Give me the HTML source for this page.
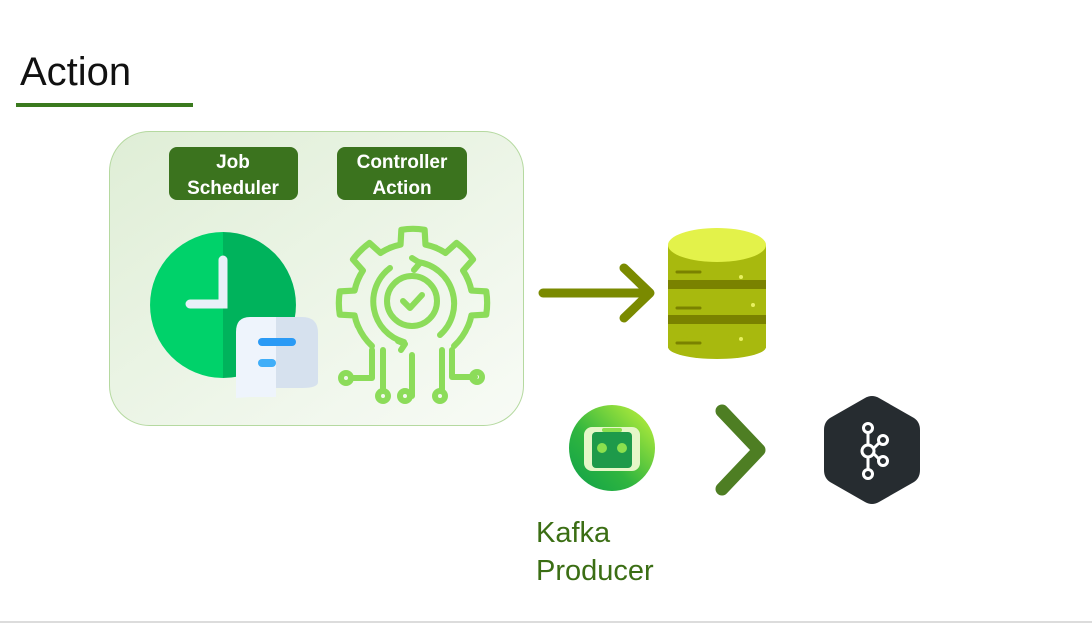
<!DOCTYPE html>
<html><head><meta charset="utf-8"><style>
body{margin:0;background:#fff;width:1092px;height:625px;overflow:hidden;font-family:"Liberation Sans",sans-serif}
</style></head><body>
<svg width="1092" height="625" viewBox="0 0 1092 625" xmlns="http://www.w3.org/2000/svg">
<defs>
<linearGradient id="bg" x1="0" y1="0" x2="1" y2="1"><stop offset="0" stop-color="#dfeed6"/><stop offset="1" stop-color="#f8fbf6"/></linearGradient>
<linearGradient id="rb" x1="1" y1="0" x2="0" y2="1"><stop offset="0" stop-color="#c8f53a"/><stop offset="0.6" stop-color="#2fb53f"/><stop offset="1" stop-color="#0ea04a"/></linearGradient>
<path id="tooth" d="M-22.2 -53.6 A58 58 0 0 1 -12.1 -56.7 L-11.3 -71.1 A72 72 0 0 1 11.3 -71.1 L12.1 -56.7 A58 58 0 0 1 22.2 -53.6"/>
</defs>
<text x="20" y="85" font-size="40" fill="#111">Action</text>
<rect x="16" y="103" width="177" height="4" fill="#3a7a1e"/>
<rect x="0" y="621" width="1092" height="2" fill="#dcdcdc"/>
<rect x="109.5" y="131.5" width="414" height="294" rx="40" fill="url(#bg)" stroke="#b5d9a0"/>
<rect x="169" y="147" width="129" height="53" rx="8" fill="#3b731e"/>
<rect x="337" y="147" width="130" height="53" rx="8" fill="#3b731e"/>
<g fill="#fff" font-size="19" text-anchor="middle" font-weight="bold">
<text x="233" y="168">Job</text><text x="233" y="194">Scheduler</text>
<text x="402" y="168">Controller</text><text x="402" y="194">Action</text></g>
<!-- clock -->
<path d="M223 232 A73 73 0 0 0 223 378 Z" fill="#00d26a"/>
<path d="M223 232 A73 73 0 0 1 223 378 Z" fill="#00b35c"/>
<path d="M223 260 V304 H190" stroke="#e8f0f8" stroke-width="9" fill="none" stroke-linecap="round"/>
<path d="M250 317 H276 V397 H250 L236 398 V332 Q236 317 250 317Z" fill="#eef4fc"/>
<path d="M276 317 H302 Q318 317 318 333 V382 Q318 388 302 388 H276Z" fill="#d6e1ee"/>
<path d="M262 342 H292" stroke="#2a9af5" stroke-width="8" stroke-linecap="round"/>
<path d="M262 363 H272" stroke="#40aef8" stroke-width="8" stroke-linecap="round"/>
<!-- gear -->
<g stroke="#8cdc5a" stroke-width="6" fill="none" stroke-linecap="round" stroke-linejoin="round">
<g transform="translate(413,303) scale(1.03)">
<use href="#tooth" transform="rotate(-90)"/><use href="#tooth" transform="rotate(-45)"/><use href="#tooth"/>
<use href="#tooth" transform="rotate(45)"/><use href="#tooth" transform="rotate(90)"/>
</g>
<path d="M358 326 A58 58 0 0 0 372 346 M468 326 A58 58 0 0 1 454 346"/>
<path d="M418 262 A42 42 0 0 1 440 335 M404 342 A42 42 0 0 1 390 268"/>
<path d="M412 258 L420 263 L414 270 M398 341 L405 344 L401 350"/>
<circle cx="412" cy="301" r="25"/>
<path d="M403 301 L410 308 L422 295"/>
<path d="M352 378 H372 V350 M383 390 V350 M412 396 V355 M442 390 V350 M475 377 H452 V350"/>
<circle cx="346" cy="378" r="5"/><circle cx="383" cy="396" r="5"/><circle cx="405" cy="396" r="5"/><circle cx="440" cy="396" r="5"/><circle cx="477" cy="377" r="5"/>
</g>
<!-- arrow -->
<g stroke="#7a8a00" stroke-width="9" fill="none" stroke-linecap="round" stroke-linejoin="round">
<path d="M543 293 H648 M624 268 L650 293 L624 318"/></g>
<!-- db -->
<rect x="668" y="245" width="98" height="103" fill="#a8b90e"/>
<ellipse cx="717" cy="347" rx="49" ry="12" fill="#a8b90e"/>
<rect x="668" y="280" width="98" height="9" fill="#7a8200"/>
<rect x="668" y="315" width="98" height="9" fill="#7a8200"/>
<ellipse cx="717" cy="245" rx="49" ry="17" fill="#e3f24a"/>
<g stroke="#7a8200" stroke-width="3" stroke-linecap="round"><path d="M677 272 H700 M677 308 H700 M677 343 H700"/></g>
<g fill="#e8f060"><circle cx="741" cy="277" r="2"/><circle cx="753" cy="305" r="2"/><circle cx="741" cy="339" r="2"/></g>
<!-- robot -->
<circle cx="612" cy="448" r="43" fill="url(#rb)"/>
<rect x="584" y="427" width="56" height="44" rx="8" fill="#e6f7c8"/>
<rect x="592" y="432" width="40" height="36" rx="4" fill="#1e9a4a"/>
<circle cx="602" cy="448" r="5" fill="#8be04e"/><circle cx="622" cy="448" r="5" fill="#8be04e"/>
<rect x="602" y="428" width="20" height="4" rx="2" fill="#8be04e"/>
<!-- chevron -->
<path d="M722 411 L759 450 L722 489" stroke="#4e7e23" stroke-width="13" fill="none" stroke-linecap="round" stroke-linejoin="round"/>
<!-- hexagon -->
<path d="M865 398 Q872 394 879 398 L914 418 Q920 422 920 430 V470 Q920 478 914 482 L879 502 Q872 506 865 502 L830 482 Q824 478 824 470 V430 Q824 422 830 418 Z" fill="#262c30"/>
<g stroke="#fff" stroke-width="3" fill="none">
<circle cx="868" cy="428" r="4.5"/><circle cx="868" cy="451" r="6"/><circle cx="868" cy="474" r="4.5"/>
<circle cx="883" cy="440" r="4.5"/><circle cx="883" cy="461" r="4.5"/>
<path d="M868 433 V445 M868 457 V469 M873 449 L879 443 M873 453 L879 459"/></g>
<g fill="#3b6e14" font-size="29"><text x="536" y="542">Kafka</text><text x="536" y="580">Producer</text></g>
</svg>
</body></html>
